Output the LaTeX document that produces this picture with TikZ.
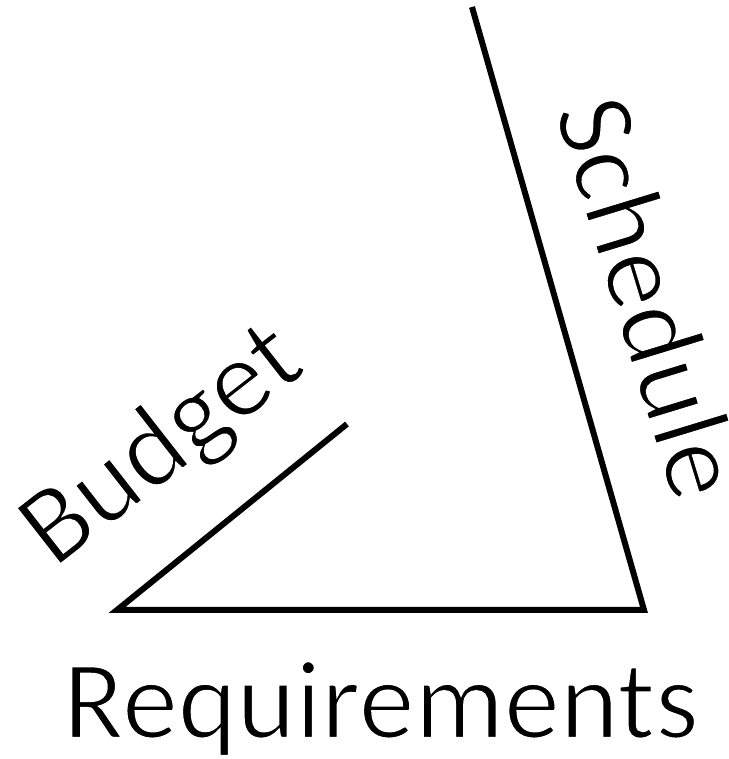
\documentclass[tikz,border=0pt]{standalone}
\usepackage{fontspec}
\setmainfont{Carlito}
% lighter strokes: fill the glyphs, then trace their outlines in white
\newcommand{\thinglyphs}[1]{\special{pdf:code 1 G 2.4 w 2 Tr}#1\special{pdf:code 0 G 1 w 0 Tr}}
\begin{document}
\begin{tikzpicture}[x=1pt,y=1pt,
  edge/.style={line width=6pt, line join=miter},
  label/.style={inner sep=0pt, anchor=base, font=\fontsize{112}{134}\selectfont}]
\useasboundingbox (0,0) rectangle (728,759);
% corners of the open triangle
\coordinate (budgetend) at (347,335);
\coordinate (left) at (117,149);
\coordinate (right) at (644,149);
\coordinate (schedend) at (472,752);
\draw[edge] (budgetend) -- (left) -- (right) -- (schedend);
% side labels
\node[label] (req) at (381,21) {\thinglyphs{Requirements}};
\node[label, rotate=38] (bud) at (181.5,289) {\thinglyphs{Budget}};
\node[label, rotate=-73] (sch) at (614,451) {\thinglyphs{Schedule}};
\end{tikzpicture}
\end{document}
